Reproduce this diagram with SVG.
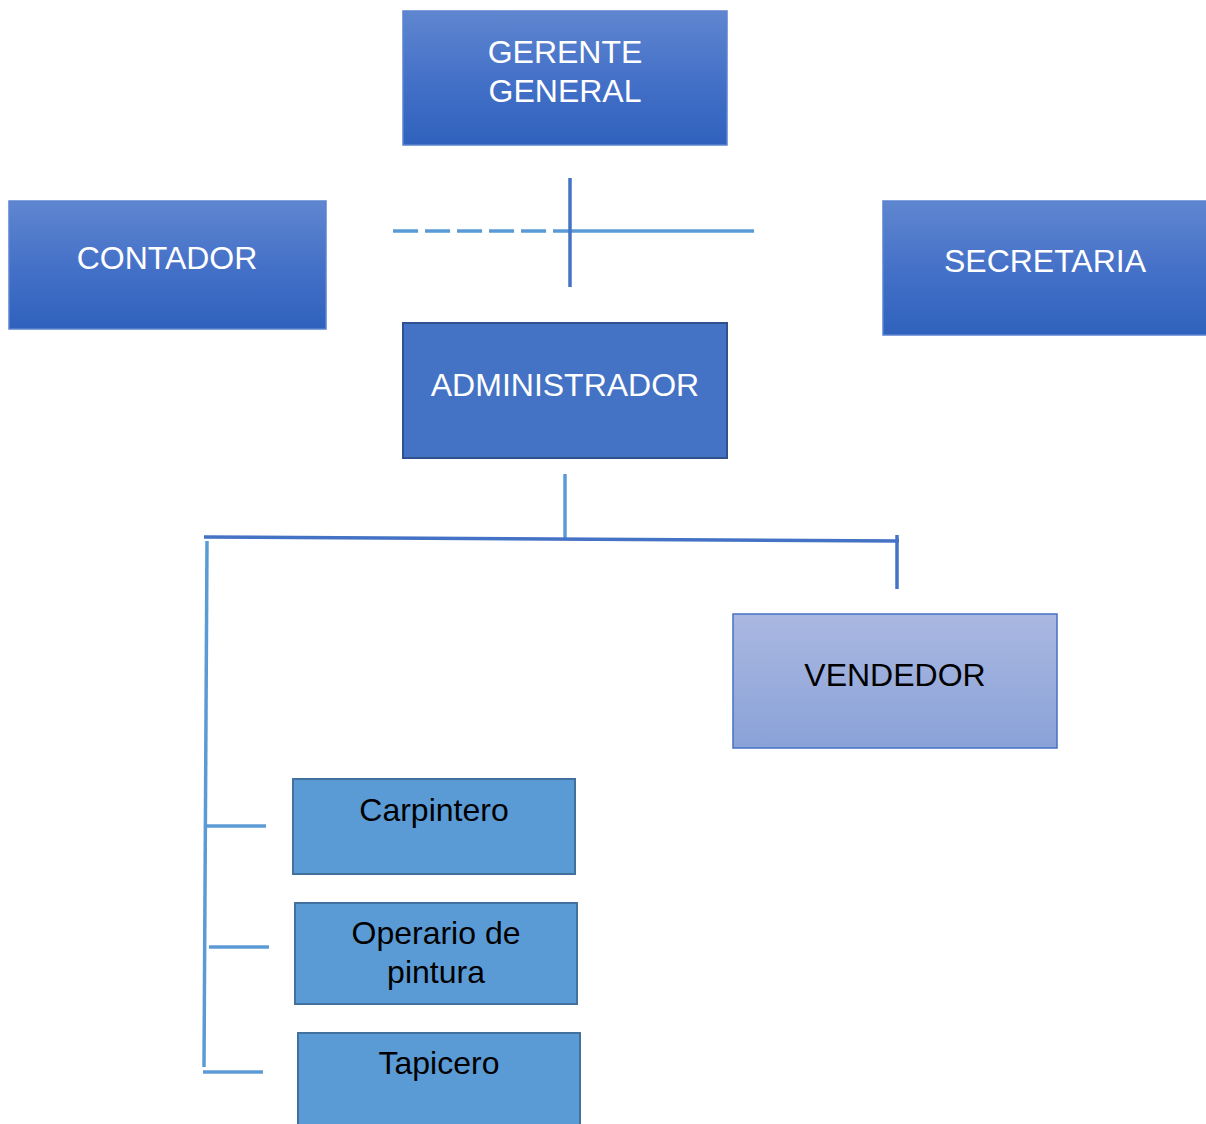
<svg xmlns="http://www.w3.org/2000/svg" width="1206" height="1124" viewBox="0 0 1206 1124">
  <defs>
    <linearGradient id="gradDark" x1="0" y1="0" x2="0" y2="1">
      <stop offset="0" stop-color="#5f86cf"/>
      <stop offset="0.5" stop-color="#4571c8"/>
      <stop offset="1" stop-color="#2f62bd"/>
    </linearGradient>
    <linearGradient id="gradLight" x1="0" y1="0" x2="0" y2="1">
      <stop offset="0" stop-color="#aab8e1"/>
      <stop offset="1" stop-color="#8aa2d8"/>
    </linearGradient>
    <style>
      .lbl { font-family: "Liberation Sans", Arial, sans-serif; text-anchor: middle; }
      .w { fill: #ffffff; font-size: 32px; }
      .b { fill: #000000; font-size: 32px; }
      .s { fill: #000000; font-size: 32px; }
      .top { fill: url(#gradDark); stroke: #5b82d0; stroke-width: 1.5; }
      .adm { fill: #4472c4; stroke: #2f528f; stroke-width: 2; }
      .ven { fill: url(#gradLight); stroke: #4472c4; stroke-width: 1.5; }
      .op { fill: #5b9bd5; stroke: #41719c; stroke-width: 2; }
      .c1 { stroke: #4472c4; stroke-width: 3.5; fill: none; }
      .c2 { stroke: #5b9bd5; stroke-width: 3.5; fill: none; }
    </style>
  </defs>

  <!-- connectors -->
  <g id="connectors">
    <line class="c2" x1="393" y1="231" x2="570" y2="231" stroke-dasharray="25 7"/>
    <line class="c2" x1="570" y1="231" x2="754" y2="231"/>
    <line class="c1" x1="570" y1="178" x2="570" y2="287"/>
    <line class="c2" x1="565" y1="474" x2="565" y2="539"/>
    <line class="c1" x1="204" y1="537" x2="899" y2="541"/>
    <line class="c1" x1="897" y1="535" x2="897" y2="589"/>
    <line class="c2" x1="207" y1="541" x2="204" y2="1067"/>
    <line class="c2" x1="207" y1="826" x2="266" y2="826"/>
    <line class="c2" x1="209" y1="947" x2="269" y2="947"/>
    <line class="c2" x1="203" y1="1072" x2="263" y2="1072"/>
  </g>

  <g id="gerente-general">
    <rect class="top" x="403" y="11" width="324" height="134"/>
    <text class="lbl w" x="565" y="63">GERENTE</text>
    <text class="lbl w" x="565" y="102">GENERAL</text>
  </g>

  <g id="contador">
    <rect class="top" x="9" y="201" width="317" height="128"/>
    <text class="lbl w" x="167" y="269">CONTADOR</text>
  </g>

  <g id="secretaria">
    <rect class="top" x="883" y="201" width="324" height="134"/>
    <text class="lbl w" x="1045" y="272">SECRETARIA</text>
  </g>

  <g id="administrador">
    <rect class="adm" x="403" y="323" width="324" height="135"/>
    <text class="lbl w" x="565" y="396">ADMINISTRADOR</text>
  </g>

  <g id="vendedor">
    <rect class="ven" x="733" y="614" width="324" height="134"/>
    <text class="lbl b" x="895" y="686">VENDEDOR</text>
  </g>

  <g id="carpintero">
    <rect class="op" x="293" y="779" width="282" height="95"/>
    <text class="lbl s" x="434" y="821">Carpintero</text>
  </g>

  <g id="operario-pintura">
    <rect class="op" x="295" y="903" width="282" height="101"/>
    <text class="lbl s" x="436" y="944">Operario de</text>
    <text class="lbl s" x="436" y="983">pintura</text>
  </g>

  <g id="tapicero">
    <rect class="op" x="298" y="1033" width="282" height="100"/>
    <text class="lbl s" x="439" y="1074">Tapicero</text>
  </g>
</svg>
